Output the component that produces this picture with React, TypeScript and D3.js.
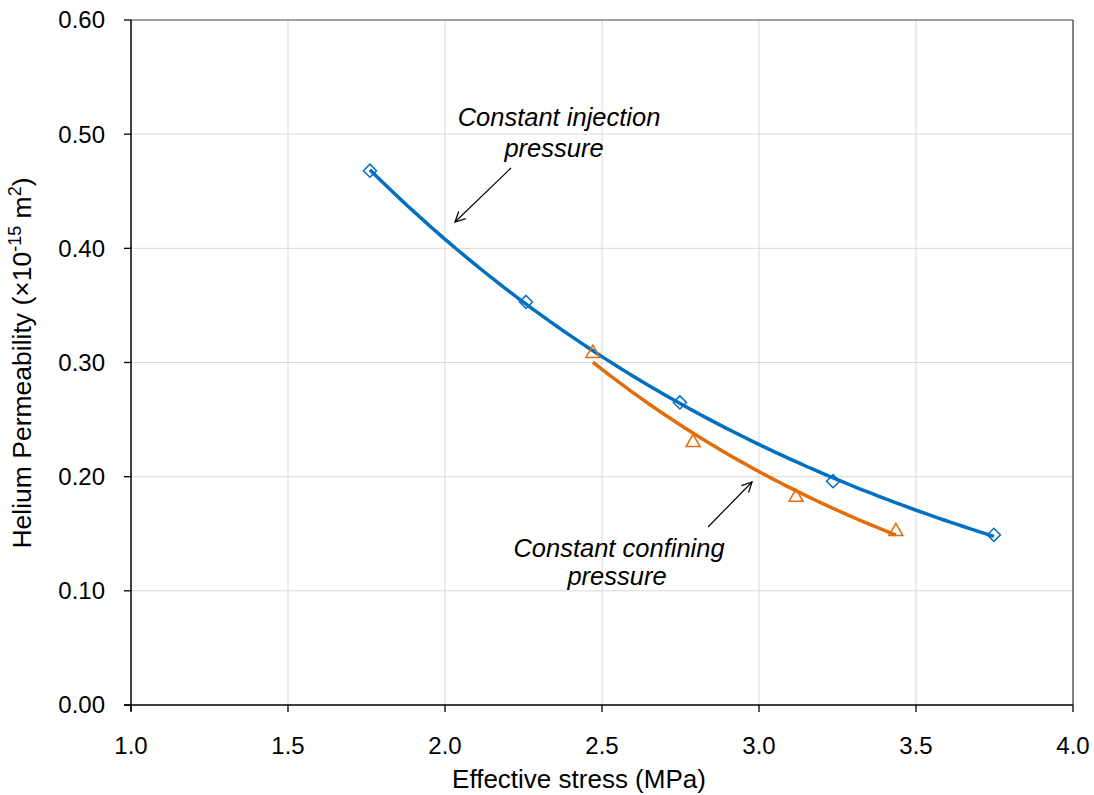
import React from "react";
import * as d3 from "d3";

const injX = [1.761, 2.258, 2.748, 3.236, 3.748];
const injY = [0.468, 0.353, 0.265, 0.196, 0.149];
const confX = [2.471, 2.79, 3.118, 3.436];
const confY = [0.309, 0.231, 0.183, 0.153];
const xTicks = [1.0, 1.5, 2.0, 2.5, 3.0, 3.5, 4.0];
const yTicks = [0.0, 0.1, 0.2, 0.3, 0.4, 0.5, 0.6];

function expFit(xs: number[], ys: number[]) {
  const ly = ys.map((v) => Math.log(v));
  const mx = d3.mean(xs)!;
  const my = d3.mean(ly)!;
  let sxx = 0, sxy = 0;
  xs.forEach((x, i) => {
    sxx += (x - mx) * (x - mx);
    sxy += (x - mx) * (ly[i] - my);
  });
  const b = sxy / sxx;
  const a = my - b * mx;
  return (x: number) => Math.exp(a + b * x);
}

export default function App() {
  const W = 1094, H = 795;
  const L = 131, R = 1073, T = 20, B = 705;
  const x = d3.scaleLinear().domain([1, 4]).range([L, R]);
  const y = d3.scaleLinear().domain([0, 0.6]).range([B, T]);
  const font = "'Liberation Sans', Arial, sans-serif";

  const curve = (xs: number[], ys: number[]) => {
    const f = expFit(xs, ys);
    const x0 = d3.min(xs)!, x1 = d3.max(xs)!;
    const pts = d3.range(0, 101).map((i) => {
      const xv = x0 + ((x1 - x0) * i) / 100;
      return [x(xv), y(f(xv))] as [number, number];
    });
    return d3.line()(pts)!;
  };

  const blue = "#0070C0";
  const orange = "#E46C0A";
  const diamond = d3.symbol().type(d3.symbolDiamond2).size(110)()!;
  const tri = (cx: number, cy: number) => {
    const s = 7;
    return `M${cx},${cy - s}L${cx + s},${cy + s * 0.75}L${cx - s},${cy + s * 0.75}Z`;
  };

  return (
    <svg width={W} height={H} style={{ position: "absolute", left: 0, top: 0, background: "#fff" }}>
      <defs>
        <marker id="arr" viewBox="0 0 12 12" refX="11" refY="6" markerWidth="12" markerHeight="12" markerUnits="userSpaceOnUse" orient="auto">
          <path d="M1,1 L11,6 L1,11" fill="none" stroke="#000" strokeWidth="1.3" />
        </marker>
      </defs>
      {xTicks.slice(1, -1).map((t) => (
        <line key={"gx" + t} x1={x(t)} x2={x(t)} y1={T} y2={B} stroke="#d9d9d9" strokeWidth={1} />
      ))}
      {yTicks.slice(1, -1).map((t) => (
        <line key={"gy" + t} x1={L} x2={R} y1={y(t)} y2={y(t)} stroke="#d9d9d9" strokeWidth={1} />
      ))}
      <line x1={L} x2={R} y1={T} y2={T} stroke="#808080" strokeWidth={1.3} />
      <line x1={R} x2={R} y1={T} y2={B} stroke="#404040" strokeWidth={1.3} />
      <line x1={L} x2={L} y1={T} y2={B + 6} stroke="#000" strokeWidth={1.5} />
      <line x1={L - 7} x2={R} y1={B} y2={B} stroke="#000" strokeWidth={1.5} />
      {yTicks.map((t) => (
        <g key={"yt" + t}>
          <line x1={L - 7} x2={L} y1={y(t)} y2={y(t)} stroke="#000" strokeWidth={1.3} />
          <text x={L - 26} y={y(t)} dy="0.35em" textAnchor="end" fontFamily={font} fontSize={24} fill="#000">
            {d3.format(".2f")(t)}
          </text>
        </g>
      ))}
      {xTicks.map((t) => (
        <g key={"xt" + t}>
          <line x1={x(t)} x2={x(t)} y1={B} y2={B + 7} stroke="#000" strokeWidth={1.3} />
          <text x={x(t)} y={B + 49} textAnchor="middle" fontFamily={font} fontSize={24} fill="#000">
            {d3.format(".1f")(t)}
          </text>
        </g>
      ))}
      <text x={579} y={788} textAnchor="middle" fontFamily={font} fontSize={26} fill="#000">
        Effective stress (MPa)
      </text>
      <text transform={`translate(31,363) rotate(-90)`} textAnchor="middle" fontFamily={font} fontSize={26.5} fill="#000">
        Helium Permeability (×10<tspan dy="-10" fontSize={18}>-15</tspan><tspan dy="10"> m</tspan><tspan dy="-10" fontSize={18}>2</tspan><tspan dy="10">)</tspan>
      </text>
      <path d={curve(injX, injY)} fill="none" stroke={blue} strokeWidth={3.5} />
      <path d={curve(confX, confY)} fill="none" stroke={orange} strokeWidth={3.5} />
      {injX.map((v, i) => (
        <path key={"d" + i} d={diamond} transform={`translate(${x(v)},${y(injY[i])})`} fill="none" stroke={blue} strokeWidth={1.5} />
      ))}
      {confX.map((v, i) => (
        <path key={"t" + i} d={tri(x(v), y(confY[i]))} fill="none" stroke={orange} strokeWidth={1.5} />
      ))}
      <text x={559} y={126} textAnchor="middle" fontFamily={font} fontSize={25.5} fontStyle="italic" fill="#000">
        Constant injection
      </text>
      <text x={554} y={157} textAnchor="middle" fontFamily={font} fontSize={25.5} fontStyle="italic" fill="#000">
        pressure
      </text>
      <line x1={511} y1={168} x2={455} y2={222} stroke="#000" strokeWidth={1.2} markerEnd="url(#arr)" />
      <text x={619} y={557} textAnchor="middle" fontFamily={font} fontSize={25.5} fontStyle="italic" fill="#000">
        Constant confining
      </text>
      <text x={617} y={585} textAnchor="middle" fontFamily={font} fontSize={25.5} fontStyle="italic" fill="#000">
        pressure
      </text>
      <line x1={708} y1={527} x2={752} y2={482} stroke="#000" strokeWidth={1.2} markerEnd="url(#arr)" />
    </svg>
  );
}
